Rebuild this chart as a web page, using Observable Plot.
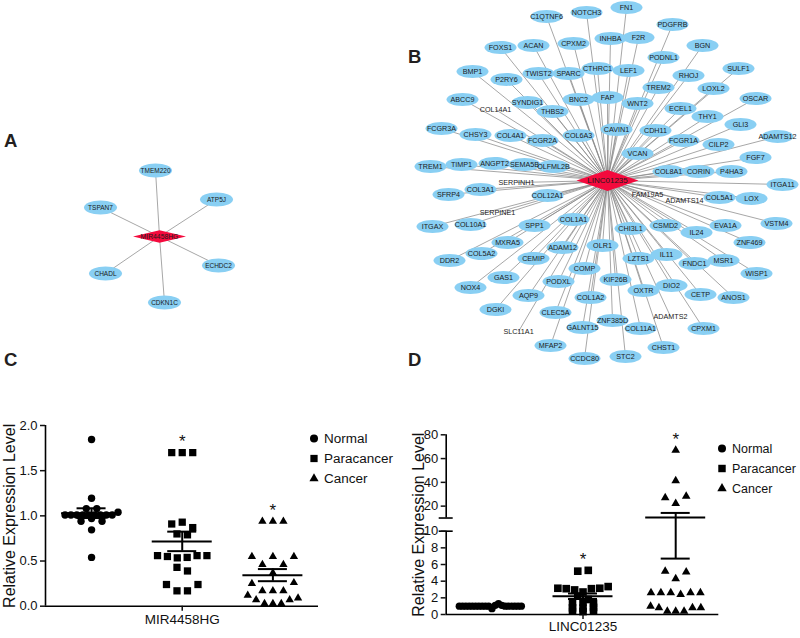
<!DOCTYPE html>
<html><head><meta charset="utf-8">
<script src="https://cdn.jsdelivr.net/npm/d3@7"></script>
<script src="https://cdn.jsdelivr.net/npm/@observablehq/plot@0.6"></script>
<style>
body{margin:0;background:#fff;}
#fig{position:relative;width:800px;height:638px;overflow:hidden;font-family:"Liberation Sans",Arial,sans-serif;color:#111;}
.panel{position:absolute;}
.panel svg{max-width:none !important;}
.letter{position:absolute;font:bold 18.5px/1 "Liberation Sans",Arial,sans-serif;color:#231f20;}
</style></head><body><div id="fig"></div>
<script>
// ---------- data ----------
const groups = ["Normal", "Paracancer", "Cancer"];
const groupSymbols = ["circle", "square", "triangle"];
const sigGroups = ["Paracancer", "Cancer"];
const yTitle = "Relative Expression Level";

// Panel A network
const netACenter = "MIR4458HG";
const netATargets = ["TMEM220","ATP5J","TSPAN7","ECHDC2","CHADL","CDKN1C"];
const netACenterLayout = [159, 236];
const netALayout = [[155,170],[216,199],[100,207],[218,265],[105,273],[164,302]];

// Panel B network
const netBCenter = "LINC01235";
const netBCenterLayout = [607, 180];
const netBTargets = ["FN1","NOTCH3","C1QTNF6","PDGFRB","INHBA","F2R","CPXM2","ACAN","FOXS1","BGN",
 "PODNL1","CTHRC1","LEF1","SULF1","BMP1","TWIST2","SPARC","RHOJ","P2RY6","TREM2",
 "LOXL2","FAP","OSCAR","ABCC9","BNC2","SYNDIG1","WNT2","ECEL1","COL14A1","THBS2",
 "THY1","GLI3","FCGR3A","CAVIN1","CDH11","CHSY3","COL4A1","COL6A3","ADAMTS12","FCGR2A",
 "FCGR1A","CILP2","VCAN","FGF7","ANGPT2","TIMP1","SEMA5B","TREM1","OLFML2B","COL8A1",
 "CORIN","P4HA3","SERPINH1","ITGA11","COL3A1","SFRP4","FAM19A5","COL12A1","COL5A1","LOX",
 "ADAMTS14","SERPINE1","COL1A1","VSTM4","COL10A1","SPP1","CSMD2","EVA1A","ITGAX","CHI3L1",
 "IL24","MXRA5","ZNF469","OLR1","ADAM12","COL5A2","IL11","CEMIP","LZTS1","DDR2",
 "MSR1","FNDC1","COMP","WISP1","GAS1","KIF26B","PODXL","DIO2","NOX4","OXTR",
 "CETP","AQP9","ANOS1","COL1A2","DGKI","CLEC5A","ADAMTS2","ZNF385D","GALNT15","COL11A1",
 "CPXM1","SLC11A1","MFAP2","CHST1","STC2","CCDC80"];
const netBLayout = [[626,7],[586,12],[546,16],[672,24],[610,38],[638,37],[573,43],[533,45],[500,47],[702,45],
 [663,57],[597,68],[628,70],[738,68],[472,71],[538,73],[568,73],[688,75],[506,79],[658,87],
 [713,88],[607,97],[755,98],[462,99],[578,99],[527,102],[637,103],[680,108],[495,109],[552,111],
 [707,116],[740,124],[441,128],[616,129],[655,130],[475,134],[510,135],[578,135],[777,136],[542,140],
 [683,140],[718,144],[637,153],[755,157],[494,163],[461,164],[524,164],[430,166],[553,166],[668,171],
 [698,171],[731,171],[516,182],[782,184],[480,189],[448,194],[647,194],[547,195],[719,197],[751,198],
 [684,200],[497,212],[573,219],[776,223],[470,224],[534,225],[665,225],[725,225],[432,226],[630,228],
 [696,232],[507,242],[749,242],[602,245],[562,247],[481,253],[666,254],[533,258],[638,258],[449,260],
 [723,260],[694,263],[584,268],[756,273],[503,277],[615,279],[558,281],[671,285],[470,287],[643,290],
 [700,294],[528,295],[733,297],[590,297],[495,309],[555,312],[670,316],[612,320],[582,327],[640,328],
 [703,328],[518,331],[550,345],[663,347],[625,356],[584,358]];
const netBLabelOnly = ["COL14A1","SERPINH1","SERPINE1","FAM19A5","ADAMTS14","SLC11A1","ADAMTS2"];

// Panel C: MIR4458HG values, rows as they appear (left to right)
const mirNormal = [[1.845],[1.195],[1.08,1.08],[1.01,1.01,1.01,1.01,1.01,1.01,1.01,1.01,1.01,1.04],[0.94,0.97,0.94],[0.845],[0.54]];
const mirPara = [[1.70,1.70,1.70],[0.91,0.93,0.87],[0.80,0.79],[0.56,0.55,0.535,0.54,0.56,0.56],[0.43,0.39],[0.24,0.17,0.17,0.24]];
const mirCancer = [[0.94,0.94,0.94],[0.55,0.46,0.55,0.46,0.55],[0.37],[0.25,0.17,0.17,0.17,0.26],[0.12,0.07,0.03,0.03,0.03,0.07,0.09]];
const mirTicks = [0, 0.5, 1, 1.5, 2];
const mirLabel = "MIR4458HG";

// Panel D: LINC01235 values
const lincNormal = [[1,1,1,1,1,1,1,1,1,1,0.7,1.1,1.3,1.1,1,1,1,1,1,1]];
const lincPara = [[5.2,5.3],[3.15,3.1,2.95,2.7,3.1,3.15,3.35],[2.2,1.8],[1.4,1.5,1.35],[0.8,0.75,0.85],[0.4,0.35,0.4]];
const lincCancer = [[67],[41.3],[27,22.2,28.3],[5.2,4.3,5.1],[2.6,2.6,2.6,2.4,2.6,2.6],[1.0,0.8,0.4,0.4,0.4,0.8,0.8]];
const lincTicksLower = [0, 2, 4, 6, 8, 10];
const lincTicksUpper = [20, 40, 60, 80];
const lincLabel = "LINC01235";

// ---------- helpers ----------
const FONT = '"Liberation Sans", Arial, sans-serif';
const fig = document.getElementById("fig");
function place(el, left, top, width) {
  const w = document.createElement("div");
  w.className = "panel";
  w.style.left = left + "px";
  w.style.top = top + "px";
  if (width) w.style.width = width + "px";
  w.append(el);
  fig.append(w);
  return w;
}
function letter(t, left, cy) {
  const d = document.createElement("div");
  d.className = "letter";
  d.textContent = t;
  d.style.left = left + "px";
  d.style.top = (cy - 9) + "px";
  fig.append(d);
}
function ellipseSymbol(rx, ry) {
  const k = 0.5523;
  return {draw(ctx) {
    ctx.moveTo(rx, 0);
    ctx.bezierCurveTo(rx, ry * k, rx * k, ry, 0, ry);
    ctx.bezierCurveTo(-rx * k, ry, -rx, ry * k, -rx, 0);
    ctx.bezierCurveTo(-rx, -ry * k, -rx * k, -ry, 0, -ry);
    ctx.bezierCurveTo(rx * k, -ry, rx, -ry * k, rx, 0);
    ctx.closePath();
  }};
}
function diamondSymbol(w, h) {
  return {draw(ctx) {
    ctx.moveTo(-w / 2, 0); ctx.lineTo(0, -h / 2); ctx.lineTo(w / 2, 0); ctx.lineTo(0, h / 2); ctx.closePath();
  }};
}

function network(o) {
  const nodes = o.targets.map((name, i) => ({name, x: o.layout[i][0], y: o.layout[i][1], plain: o.plain.includes(name)}));
  const c = o.centerXY;
  return Plot.plot({
    width: o.W, height: o.H, margin: 0,
    x: {domain: [o.x0, o.x0 + o.W], range: [0, o.W], axis: null},
    y: {domain: [o.y0, o.y0 + o.H], range: [0, o.H], axis: null},
    style: {background: "transparent", fontFamily: FONT, overflow: "visible"},
    marks: [
      Plot.link(nodes, {x1: c[0], y1: c[1], x2: "x", y2: "y", stroke: "#8a8a8a", strokeWidth: 0.75}),
      Plot.dot(nodes.filter(d => !d.plain), {x: "x", y: "y", r: 5, symbol: ellipseSymbol(o.rx, o.ry), fill: "#89cff3", stroke: "none"}),
      Plot.dot([c], {x: d => d[0], y: d => d[1], r: 5, symbol: diamondSymbol(o.dw, o.dh), fill: "#f40a3d", stroke: "none"}),
      Plot.text(nodes, {x: "x", y: "y", text: "name", fontSize: o.fs, fill: "#1a1a1a"}),
      Plot.text([o.center], {x: c[0], y: c[1], fontSize: o.cfs, fill: "#1a1a1a"})
    ]
  });
}

function scatter(cfg) {
  const W = 400, H = 298;
  const pxPerUnit = (W - cfg.ml - cfg.mr) / (cfg.xDomain[1] - cfg.xDomain[0]);
  const pts = [];
  cfg.rows.forEach((grpRows, gi) => {
    grpRows.forEach(row => {
      const n = row.length;
      const s = n > 1 ? Math.min(10.5, (44 + 0.9 * n) / (n - 1)) : 0;
      row.forEach((v, i) => pts.push({gi, yd: cfg.ydisp(v), x: gi - 1 + ((i - (n - 1) / 2) * s) / pxPerUnit}));
    });
  });
  const stats = groups.map((g, gi) => {
    const vals = cfg.rows[gi].flat();
    const m = d3.mean(vals), sem = d3.deviation(vals) / Math.sqrt(vals.length);
    return {group: g, pos: gi - 1, mean: cfg.ydisp(m), hi: cfg.ydisp(m + sem), lo: cfg.ydisp(m - sem), max: cfg.ydisp(d3.max(vals))};
  });
  const hm = 30 / pxPerUnit, hc = 14.5 / pxPerUnit;
  const labelMap = new Map(cfg.ticks.map((t, i) => [cfg.ydisp(t), cfg.tickLabels[i]]));
  const x0 = cfg.xDomain[0];
  const caps = stats.flatMap(s => [{pos: s.pos, y: s.hi}, {pos: s.pos, y: s.lo}]);
  return Plot.plot({
    width: W, height: H,
    marginLeft: cfg.ml, marginRight: cfg.mr, marginTop: cfg.mt, marginBottom: cfg.mb,
    x: {domain: cfg.xDomain, axis: null},
    y: {domain: cfg.yDomain, axis: null},
    style: {background: "transparent", fontFamily: FONT, color: "#111", overflow: "visible"},
    marks: [
      ...groups.map((g, gi) => Plot.dot(pts.filter(d => d.gi === gi), {x: "x", y: "yd", r: cfg.r[gi], symbol: groupSymbols[gi], fill: "#000", stroke: "none"})),
      Plot.ruleY(stats, {y: "mean", x1: d => d.pos - hm, x2: d => d.pos + hm, strokeWidth: 2, stroke: "#000"}),
      Plot.ruleY(caps, {y: "y", x1: d => d.pos - hc, x2: d => d.pos + hc, strokeWidth: 2, stroke: "#000"}),
      Plot.ruleX(stats, {x: "pos", y1: "lo", y2: "hi", strokeWidth: 2, stroke: "#000"}),
      Plot.ruleY([0], {strokeWidth: 1.6, stroke: "#000"}),
      ...cfg.axisSegments.map(([a, b]) => Plot.ruleX([x0], {y1: a, y2: b, strokeWidth: 1.6, stroke: "#000"})),
      ...(cfg.breaks ? [Plot.ruleY(cfg.breaks, {x1: x0, x2: x0, insetLeft: -7, insetRight: -7, strokeWidth: 1.6, stroke: "#000"})] : []),
      Plot.axisY({ticks: cfg.ticks.map(cfg.ydisp), tickFormat: d => labelMap.get(d), tickSize: 5, tickPadding: 3, fontSize: 13, strokeWidth: 1.5, label: null}),
      Plot.axisX({ticks: [0], tickFormat: () => cfg.xLabel, tickSize: 5, tickPadding: cfg.xPad, fontSize: 13.5, strokeWidth: 1.5, label: null}),
      Plot.text(stats.filter(s => sigGroups.includes(s.group)), {x: "pos", y: "max", text: () => "*", dy: -11, fontSize: 17}),
      Plot.text([yTitle], {frameAnchor: "left", textAnchor: "middle", rotate: -90, dx: cfg.titleDx, fontSize: 16})
    ]
  });
}

function legendPlot(rs, spacing, fs) {
  return Plot.plot({
    width: 85, height: 20 + 2 * spacing, margin: 0,
    y: {type: "point", domain: groups, range: [10, 10 + 2 * spacing], padding: 0, axis: null},
    style: {background: "transparent", fontFamily: FONT, color: "#111", overflow: "visible"},
    marks: [
      ...groups.map((g, gi) => Plot.dot([g], {y: d => d, frameAnchor: "left", dx: 4.5, r: rs[gi], symbol: groupSymbols[gi], fill: "#000", stroke: "none"})),
      Plot.text(groups, {y: d => d, frameAnchor: "left", dx: 14.5, textAnchor: "start", fontSize: fs})
    ]
  });
}

// ---------- panels ----------
place(network({center: netACenter, centerXY: netACenterLayout, targets: netATargets, layout: netALayout, plain: [],
  x0: 0, y0: 0, W: 400, H: 340, rx: 16.5, ry: 7, dw: 53, dh: 12.5, fs: 6.5, cfs: 6.8}), 0, 0, 400);

// C
place(scatter({
  rows: [mirNormal, mirPara, mirCancer], ydisp: v => v, yDomain: [0, 2],
  ticks: mirTicks, tickLabels: mirTicks.map(d3.format(".1f")),
  ml: 45, mr: 82, mt: 85, mb: 32.3, xDomain: [-1.508, 1.503],
  r: [3.7, 4.1, 3.1], axisSegments: [[0, 2]], breaks: null,
  xLabel: mirLabel, xPad: 3, titleDx: -35.5
}), 0, 340, 400);

// D (broken axis: 0-10 below, 10-80 compressed above)
const UPPER0 = 11.58, UPPERK = 0.1427;
const lincDisp = v => v <= 10 ? v : UPPER0 + (v - 10) * UPPERK;
const lincTicks = [...lincTicksLower, ...lincTicksUpper];
place(scatter({
  rows: [lincNormal, lincPara, lincCancer], ydisp: lincDisp, yDomain: [0, lincDisp(80)],
  ticks: lincTicks, tickLabels: lincTicks.map(String),
  ml: 45.7, mr: 81.7, mt: 94.3, mb: 24, xDomain: [-1.476, 1.465],
  r: [3.7, 4.3, 3.2], axisSegments: [[0, 10], [UPPER0, lincDisp(80)]], breaks: [10, UPPER0],
  xLabel: lincLabel, xPad: 2, titleDx: -27
}), 400, 340, 400);

place(network({center: netBCenter, centerXY: netBCenterLayout, targets: netBTargets, layout: netBLayout, plain: netBLabelOnly,
  x0: 400, y0: 0, W: 400, H: 372, rx: 16, ry: 6.5, dw: 62, dh: 21, fs: 7.2, cfs: 8}), 400, 0, 400);

place(legendPlot([4, 4.1, 3.4], 20.3, 13.5), 308.8, 427.7);
place(legendPlot([4, 4.2, 3.5], 20.5, 12.5), 717, 436.7);

letter("A", 4, 141);
letter("B", 408, 57);
letter("C", 4, 360);
letter("D", 408, 360);
</script>
</body></html>
